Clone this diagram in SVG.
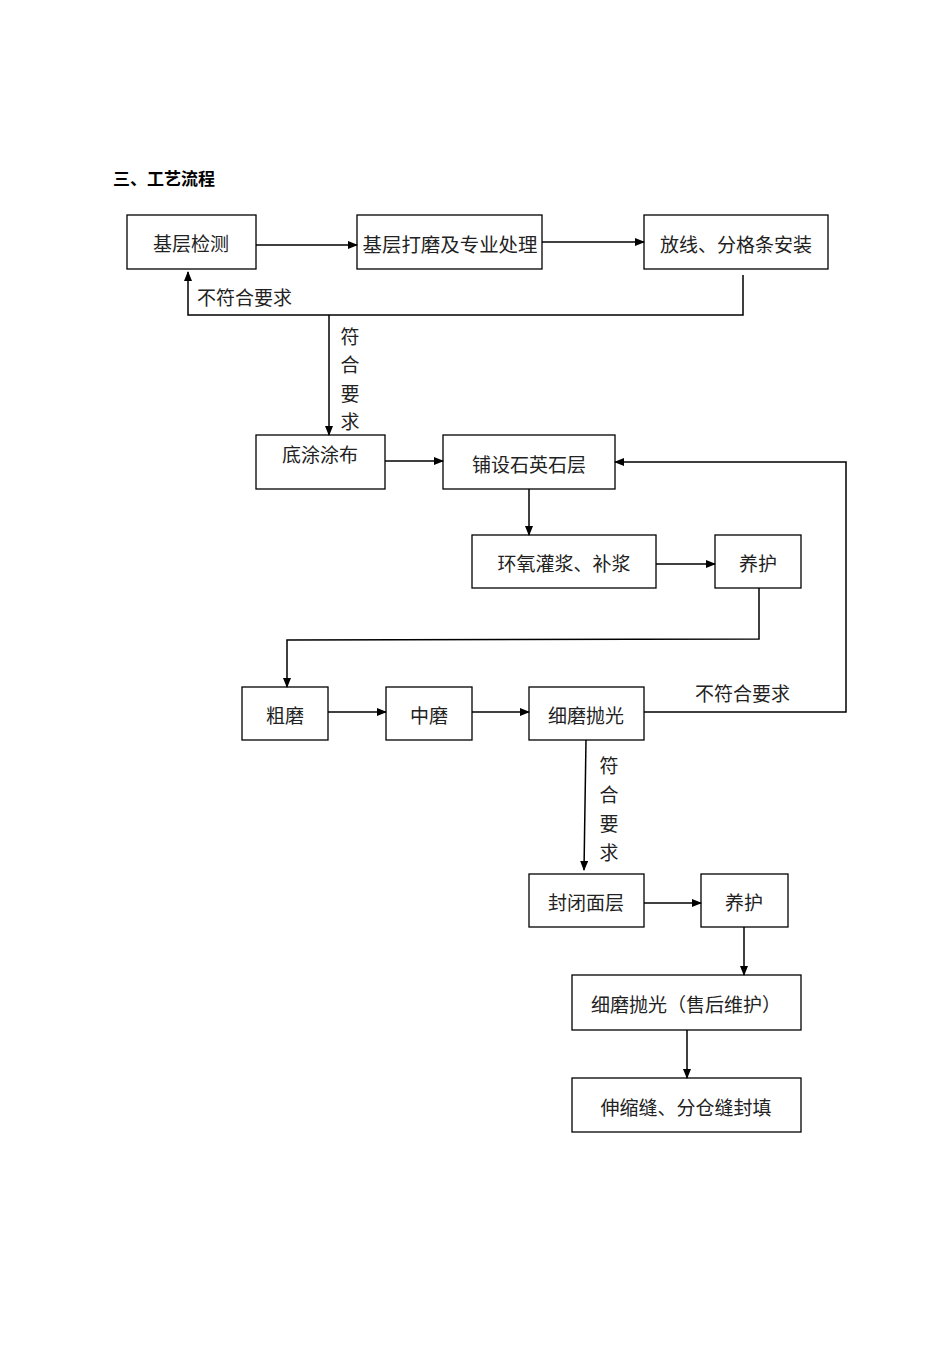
<svg xmlns="http://www.w3.org/2000/svg" width="950" height="1345" viewBox="0 0 950 1345">
<defs>
<marker id="a" markerWidth="10" markerHeight="8" refX="9" refY="4" orient="auto" markerUnits="userSpaceOnUse"><path d="M0,0 L10,4 L0,8 z" fill="#000"/></marker>
<style>
rect{fill:#fff;stroke:#000;stroke-width:1.3}
text{font-family:"Noto Sans CJK SC","Liberation Serif",serif;font-size:19px;fill:#222}
.c{text-anchor:middle}
line,polyline{fill:none;stroke:#000;stroke-width:1.5}
.t{font-weight:bold;font-size:17px;fill:#000}
</style>
</defs>
<rect width="950" height="1345" style="fill:#fff;stroke:none"/>
<text class="t" x="113" y="185">三、工艺流程</text>
<g id="n1"><rect x="127" y="215" width="129" height="54"/><text class="c" x="191" y="251">基层检测</text></g>
<g id="n2"><rect x="357" y="215" width="185" height="54"/><text class="c" x="450" y="252" textLength="175" lengthAdjust="spacingAndGlyphs">基层打磨及专业处理</text></g>
<g id="n3"><rect x="644" y="215" width="184" height="54"/><text class="c" x="736" y="252">放线、分格条安装</text></g>
<g id="n4"><rect x="256" y="435" width="129" height="54"/><text class="c" x="320" y="462">底涂涂布</text></g>
<g id="n5"><rect x="443" y="435" width="172" height="54"/><text class="c" x="529" y="472">铺设石英石层</text></g>
<g id="n6"><rect x="472" y="535" width="184" height="53"/><text class="c" x="564" y="571">环氧灌浆、补浆</text></g>
<g id="n7"><rect x="715" y="535" width="86" height="53"/><text class="c" x="758" y="571">养护</text></g>
<g id="n8"><rect x="242" y="687" width="86" height="53"/><text class="c" x="285" y="723">粗磨</text></g>
<g id="n9"><rect x="386" y="687" width="86" height="53"/><text class="c" x="429" y="723">中磨</text></g>
<g id="n10"><rect x="529" y="687" width="115" height="53"/><text class="c" x="586" y="723">细磨抛光</text></g>
<g id="n11"><rect x="529" y="874" width="115" height="53"/><text class="c" x="586" y="910">封闭面层</text></g>
<g id="n12"><rect x="701" y="874" width="87" height="53"/><text class="c" x="744" y="910">养护</text></g>
<g id="n13"><rect x="572" y="975" width="229" height="55"/><text class="c" x="686" y="1012">细磨抛光（售后维护）</text></g>
<g id="n14"><rect x="572" y="1078" width="229" height="54"/><text class="c" x="686" y="1115">伸缩缝、分仓缝封填</text></g>
<g id="edges">
<line x1="256" y1="245" x2="357" y2="245" marker-end="url(#a)"/>
<line x1="542" y1="242" x2="644" y2="242" marker-end="url(#a)"/>
<polyline points="743,275 743,315 188,315 188,272" marker-end="url(#a)"/>
<line x1="329" y1="315" x2="329" y2="435" marker-end="url(#a)"/>
<line x1="385" y1="461" x2="443" y2="461" marker-end="url(#a)"/>
<polyline points="644,712 846,712 846,462 615,462" marker-end="url(#a)"/>
<line x1="529" y1="489" x2="529" y2="535" marker-end="url(#a)"/>
<line x1="656" y1="564" x2="715" y2="564" marker-end="url(#a)"/>
<polyline points="759,588 759,639 287,640 287,687" marker-end="url(#a)"/>
<line x1="328" y1="712" x2="386" y2="712" marker-end="url(#a)"/>
<line x1="472" y1="712" x2="529" y2="712" marker-end="url(#a)"/>
<line x1="586" y1="740" x2="584" y2="870" marker-end="url(#a)"/>
<line x1="644" y1="903" x2="701" y2="903" marker-end="url(#a)"/>
<line x1="744" y1="927" x2="744" y2="975" marker-end="url(#a)"/>
<line x1="687" y1="1030" x2="687" y2="1078" marker-end="url(#a)"/>
<text x="197" y="305">不符合要求</text>
<text x="695" y="701">不符合要求</text>
<text class="c" x="350" y="344">符</text><text class="c" x="350" y="372">合</text><text class="c" x="350" y="401">要</text><text class="c" x="350" y="429">求</text>
<text class="c" x="609" y="773">符</text><text class="c" x="609" y="802">合</text><text class="c" x="609" y="831">要</text><text class="c" x="609" y="860">求</text>
</g>
</svg>
